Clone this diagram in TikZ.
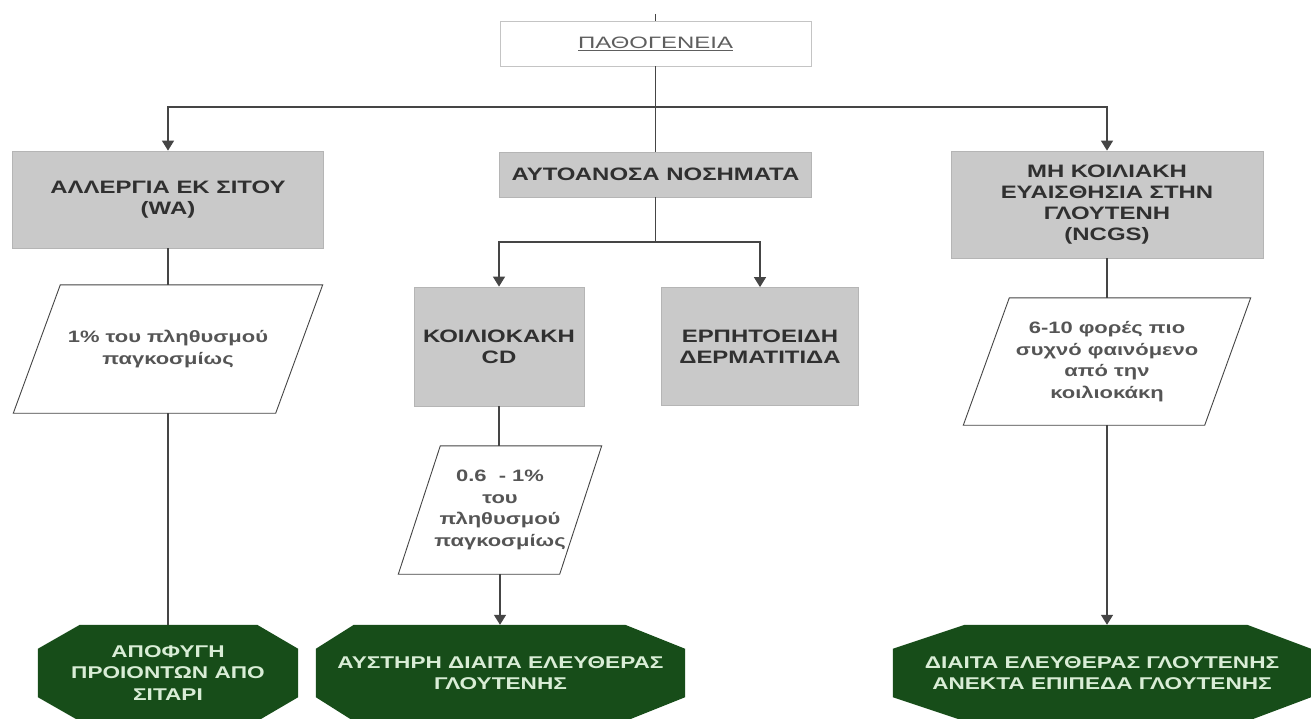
\documentclass[tikz,border=0pt]{standalone}
\usepackage{fontspec}
\setmainfont{Liberation Sans}
\newfontfamily\bsans[FakeStretch=1.33]{Liberation Sans}
\newfontfamily\wsans[FakeStretch=1.45]{Liberation Sans}
\usetikzlibrary{arrows.meta,backgrounds,calc}
\definecolor{boxgray}{HTML}{C9C9C9}
\definecolor{boxedge}{HTML}{B5B5B5}
\definecolor{topedge}{HTML}{C4C4C4}
\definecolor{txtdark}{HTML}{303030}
\definecolor{txtmid}{HTML}{555555}
\definecolor{txttop}{HTML}{5E5E5E}
\definecolor{linec}{HTML}{454545}
\definecolor{octgreen}{HTML}{174D19}
\definecolor{octtext}{HTML}{D9EDD6}
\newcommand\drawpgram[2]{%
  \draw[pgram] ($(#1.north west)+(#2,0)$) -- ($(#1.north east)+(#2,0)$)
    -- ($(#1.south east)+(-#2,0)$) -- ($(#1.south west)+(-#2,0)$) -- cycle;}
\newcommand\drawoct[3]{%
  \begin{scope}[on background layer]
  \fill[octgreen] ($(#1.north west)+(#2,0)$) -- ($(#1.north east)+(-#3,0)$)
    -- ($(#1.north east)+(0,24)$) -- ($(#1.south east)+(0,-24)$)
    -- ($(#1.south east)+(-#3,0)$) -- ($(#1.south west)+(#2,0)$)
    -- ($(#1.south west)+(0,-24)$) -- ($(#1.north west)+(0,24)$) -- cycle;
  \end{scope}}
\begin{document}
\begin{tikzpicture}[x=1pt,y=-1pt,
  conn/.style={draw=linec, line width=1.4pt},
  tip/.style={-{Triangle[width=12pt,length=10pt]}},
  graybox/.style={draw=boxedge, fill=boxgray, line width=0.8pt, align=center,
    inner sep=0pt, text=txtdark, font=\bsans\bfseries\fontsize{18}{21}\selectfont},
  topbox/.style={draw=topedge, fill=white, line width=0.8pt, inner sep=0pt,
    text=txttop, font=\wsans\fontsize{16.5}{20}\selectfont},
  ptext/.style={draw=none, align=center, inner sep=0pt, text=txtmid,
    font=\bsans\bfseries\fontsize{16.5}{21.7}\selectfont},
  pgram/.style={draw=linec, line width=0.9pt},
  octtxt/.style={draw=none, align=center, inner sep=0pt, text=octtext,
    font=\bsans\bfseries\fontsize{17}{21.5}\selectfont}
]
\clip (0,0) rectangle (1311,719);
\begin{scope}[on background layer]
\fill[white] (0,0) rectangle (1311,719);
\end{scope}

% top
\node[topbox, minimum width=311pt, minimum height=45pt] (top) at (655.5,43.5) {\underline{ΠΑΘΟΓΕΝΕΙΑ}};
\coordinate (stub) at (top.north |- 0,14);

% level 1
\node[graybox, minimum width=311pt, minimum height=97pt] (wa) at (168,199.5)
  {ΑΛΛΕΡΓΙΑ ΕΚ ΣΙΤΟΥ\\(WA)};
\node[graybox, minimum width=312pt, minimum height=45pt] (auto) at (655.5,174.5)
  {ΑΥΤΟΑΝΟΣΑ ΝΟΣΗΜΑΤΑ};
\node[graybox, minimum width=312pt, minimum height=107pt] (ncgs) at (1107,204.5)
  {ΜΗ ΚΟΙΛΙΑΚΗ\\ΕΥΑΙΣΘΗΣΙΑ ΣΤΗΝ\\ΓΛΟΥΤΕΝΗ\\(NCGS)};

% level 2
\node[graybox, minimum width=170pt, minimum height=119pt] (cd) at (499,346.5)
  {ΚΟΙΛΙΟΚΑΚΗ\\CD};
\node[graybox, minimum width=197pt, minimum height=118pt] (dh) at (760,346.5)
  {ΕΡΠΗΤΟΕΙΔΗ\\ΔΕΡΜΑΤΙΤΙΔΑ};

% parallelograms
\node[ptext, minimum width=262pt, minimum height=128pt] (p1) at (168,349)
  {1\% του πληθυσμού\\παγκοσμίως};
\drawpgram{p1}{23.5}
\node[ptext, minimum width=161pt, minimum height=128pt] (p2) at (500,510)
  {0.6 \ - 1\%\\του\\πληθυσμού\\παγκοσμίως};
\drawpgram{p2}{21}
\node[ptext, minimum width=241pt, minimum height=127pt] (p3) at (1107,361.5)
  {6-10 φορές πιο\\συχνό φαινόμενο\\από την\\κοιλιοκάκη};
\drawpgram{p3}{23}

% octagons
\node[octtxt, minimum width=260pt, minimum height=96pt] (o1) at (168,673)
  {ΑΠΟΦΥΓΗ\\ΠΡΟΙΟΝΤΩΝ ΑΠΟ\\ΣΙΤΑΡΙ};
\drawoct{o1}{42}{41}
\node[octtxt, minimum width=369pt, minimum height=96pt] (o2) at (500.5,673)
  {ΑΥΣΤΗΡΗ ΔΙΑΙΤΑ ΕΛΕΥΘΕΡΑΣ\\ΓΛΟΥΤΕΝΗΣ};
\drawoct{o2}{38}{60}
\node[octtxt, minimum width=418pt, minimum height=96pt] (o3) at (1102,673)
  {ΔΙΑΙΤΑ ΕΛΕΥΘΕΡΑΣ ΓΛΟΥΤΕΝΗΣ\\ΑΝΕΚΤΑ ΕΠΙΠΕΔΑ ΓΛΟΥΤΕΝΗΣ};
\drawoct{o3}{72}{64}

% connectors
\coordinate (hb) at (top.south |- 0,107);
\coordinate (hb2) at (auto.south |- 0,242);
\draw[conn] (stub) -- (top.north);
\draw[conn] (top.south) -- (auto.north);
\draw[conn, tip] (hb) -| (wa.north);
\draw[conn, tip] (hb) -| (ncgs.north);
\draw[conn, tip] (auto.south) -- (hb2) -| (cd.north);
\draw[conn, tip] (hb2) -| (dh.north);
\draw[conn] (wa.south) -- (p1.north);
\draw[conn] (p1.south) -- (o1.north);
\draw[conn] (cd.south) -- (cd.south |- p2.north);
\draw[conn, tip] (p2.south) -- (p2.south |- o2.north);
\draw[conn] (ncgs.south) -- (p3.north);
\draw[conn, tip] (p3.south) -- (p3.south |- o3.north);
\end{tikzpicture}
\end{document}
